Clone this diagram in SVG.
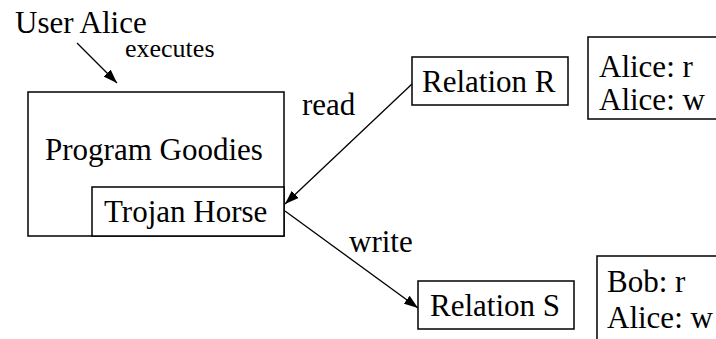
<svg xmlns="http://www.w3.org/2000/svg" width="716" height="339" viewBox="0 0 716 339">
<defs>
<style>
.box{fill:#fff;stroke:#000;stroke-width:1.5}
.t{font-family:'Liberation Serif','Times New Roman',serif;font-size:31px;fill:#000}
.s{font-family:'Liberation Serif','Times New Roman',serif;font-size:26px;fill:#000}
.ln{stroke:#000;stroke-width:1.3;fill:none}
</style>
<marker id="ah" viewBox="0 0 14 10" refX="14" refY="5" markerWidth="14" markerHeight="10" markerUnits="userSpaceOnUse" orient="auto">
<path d="M0,0 L14,5 L0,10 Z" fill="#000"/>
</marker>
</defs>
<rect width="716" height="339" fill="#fff"/>
<g id="user-alice">
<text class="t" x="15" y="33">User Alice</text>
</g>
<g id="program-goodies">
<rect class="box" x="28" y="92" width="256" height="144"/>
<text class="t" x="45" y="160">Program Goodies</text>
</g>
<g id="trojan-horse">
<rect class="box" x="92" y="187" width="192" height="49"/>
<text class="t" x="104" y="222">Trojan Horse</text>
</g>
<g id="relation-r">
<rect class="box" x="412" y="57" width="156" height="48"/>
<text class="t" x="422" y="92">Relation R</text>
</g>
<g id="acl-r">
<rect class="box" x="588" y="37" width="140" height="82"/>
<text class="t" x="599" y="77">Alice: r</text>
<text class="t" x="599" y="110">Alice: w</text>
</g>
<g id="relation-s">
<rect class="box" x="418" y="281" width="156" height="48"/>
<text class="t" x="430" y="316">Relation S</text>
</g>
<g id="acl-s">
<rect class="box" x="597" y="256" width="140" height="100"/>
<text class="t" x="607" y="292">Bob: r</text>
<text class="t" x="607" y="328">Alice: w</text>
</g>
<g id="connectors">
<line class="ln" x1="77" y1="43" x2="117" y2="83" marker-end="url(#ah)"/>
<text class="s" x="125" y="57">executes</text>
<line class="ln" x1="412" y1="84" x2="285" y2="204" marker-end="url(#ah)"/>
<text class="t" x="302" y="115">read</text>
<line class="ln" x1="285" y1="211" x2="418" y2="308" marker-end="url(#ah)"/>
<text class="t" x="349" y="252">write</text>
</g>
</svg>
